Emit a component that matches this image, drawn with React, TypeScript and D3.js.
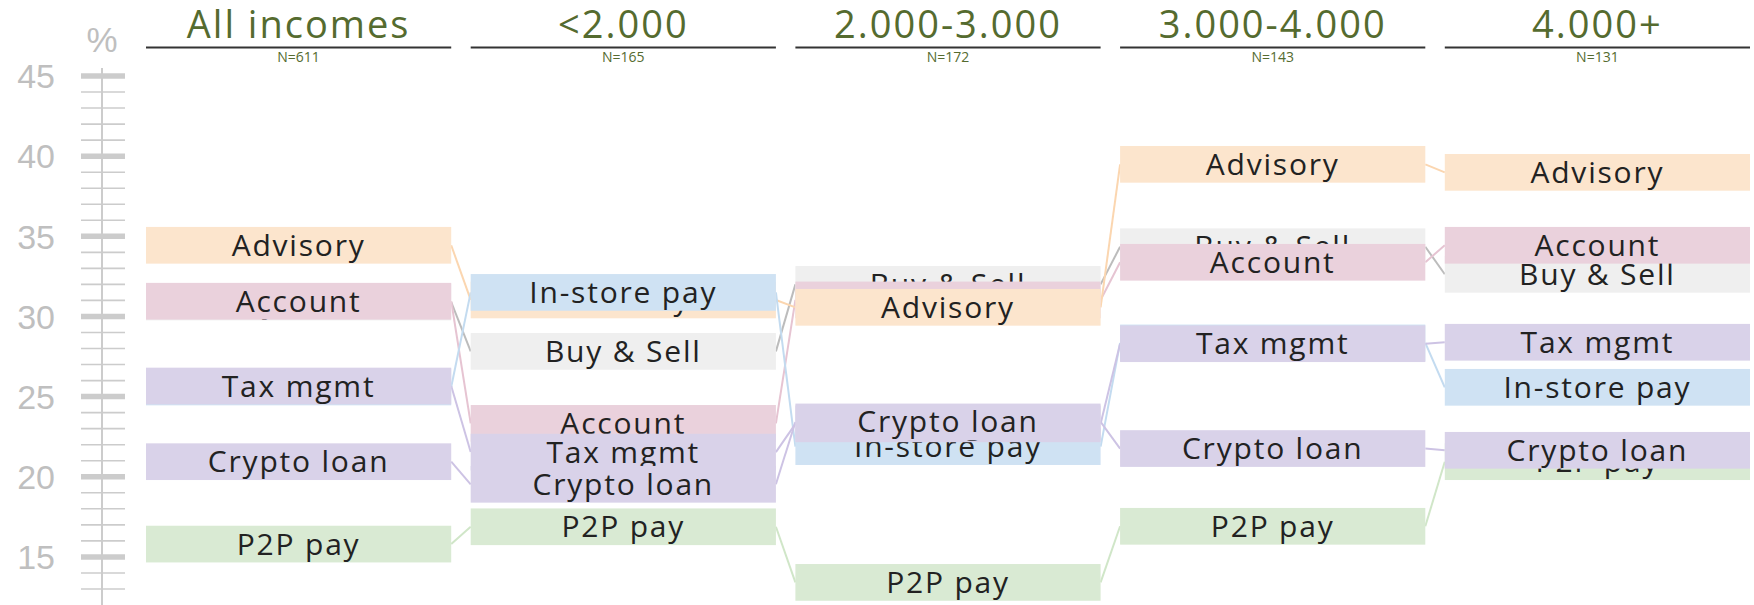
import React from "react";
import * as d3 from "d3";

const columns = ["All incomes", "<2.000", "2.000-3.000", "3.000-4.000", "4.000+"];
const sampleSizes = [611, 165, 172, 143, 131];

// draw order (later ones on top)
const seriesNames = ["P2P pay", "Buy & Sell", "Account", "Advisory", "In-store pay", "Tax mgmt", "Crypto loan"];
const p2pPay = [15.8, 16.88, 13.41, 16.91, 20.94];
const buySell = [30.9, 27.82, 32.0, 34.35, 32.63];
const account = [30.95, 23.33, 31.03, 33.38, 34.44];
const advisory = [34.44, 31.03, 30.57, 39.49, 38.99];
const inStorePay = [25.6, 31.5, 21.88, 28.35, 25.58];
const taxMgmt = [25.66, 21.54, 23.3, 28.3, 28.39];
const cryptoLoan = [20.94, 19.53, 23.42, 21.76, 21.65];
const seriesValues = [p2pPay, buySell, account, advisory, inStorePay, taxMgmt, cryptoLoan];

const boxColors = ["#d9ead3", "#efefef", "#ead1dc", "#fce5cd", "#cfe2f3", "#d9d2e9", "#d9d2e9"];
const lineColors = ["#d0e6c8", "#bcbcbc", "#e6c4d2", "#fbd6b0", "#c3dbf0", "#cdc3e4", "#cdc3e4"];

const yTickValues = d3.range(13, 46);
const yLabelValues = [15, 20, 25, 30, 35, 40, 45];

const W = 1754;
const H = 605;
const FONT = "'Open Sans', sans-serif";
const TITLE_COLOR = "#556b2f";

export default function App() {
  const x = d3.scaleBand<string>().domain(columns).range([146, 1750]).paddingInner(0.06);
  const y = d3.scaleLinear().domain([12, 45]).range([605, 76]);
  const bw = x.bandwidth();
  const boxH = 36.7;
  const axisX = 102;

  return (
    <svg width={W} height={H} style={{ position: "absolute", left: 0, top: 0, background: "#fff" }}>
      {/* axis */}
      <g>
        <line x1={axisX} x2={axisX} y1={68} y2={H} stroke="#cccccc" strokeWidth={2} />
        {yTickValues.map((v) => (
          <line
            key={v}
            x1={81}
            x2={125}
            y1={y(v)}
            y2={y(v)}
            stroke="#cccccc"
            strokeWidth={v % 5 === 0 ? 5.5 : 1.6}
          />
        ))}
        {yLabelValues.map((v) => (
          <text
            key={v}
            x={55}
            y={y(v)}
            dy="0.36em"
            textAnchor="end"
            fill="#bfbfbf"
            fontFamily="'Liberation Sans', Arial, sans-serif"
            fontSize={34}
          >
            {v}
          </text>
        ))}
        <text x={axisX} y={52} textAnchor="middle" fill="#bfbfbf" fontFamily="'Liberation Sans', Arial, sans-serif" fontSize={35}>
          %
        </text>
      </g>

      {/* headers */}
      {columns.map((c, i) => {
        const x0 = x(c)!;
        return (
          <g key={c}>
            <text x={x0 + bw / 2} y={38} textAnchor="middle" fill={TITLE_COLOR} fontFamily={FONT} fontSize={38} letterSpacing={2}>
              {c}
            </text>
            <line x1={x0} x2={x0 + bw} y1={47.5} y2={47.5} stroke="#333" strokeWidth={2} />
            <text x={x0 + bw / 2} y={62} textAnchor="middle" fill={TITLE_COLOR} fontFamily={FONT} fontSize={14}>
              {"N=" + sampleSizes[i]}
            </text>
          </g>
        );
      })}

      {/* connecting lines */}
      {seriesValues.map((vals, s) =>
        vals.slice(0, -1).map((v, i) => (
          <line
            key={s + "-" + i}
            x1={x(columns[i])! + bw}
            y1={y(v)}
            x2={x(columns[i + 1])!}
            y2={y(vals[i + 1])}
            stroke={lineColors[s]}
            strokeWidth={2}
          />
        ))
      )}

      {/* boxes */}
      {seriesValues.map((vals, s) =>
        vals.map((v, i) => {
          const x0 = x(columns[i])!;
          return (
            <g key={s + "-" + i}>
              <rect x={x0} y={y(v) - boxH / 2} width={bw} height={boxH} fill={boxColors[s]} />
              <text
                x={x0 + bw / 2}
                y={y(v)}
                dy="0.35em"
                textAnchor="middle"
                fill="#222"
                fontFamily={FONT}
                fontSize={30}
                letterSpacing={1.8}
              >
                {seriesNames[s]}
              </text>
            </g>
          );
        })
      )}
    </svg>
  );
}
